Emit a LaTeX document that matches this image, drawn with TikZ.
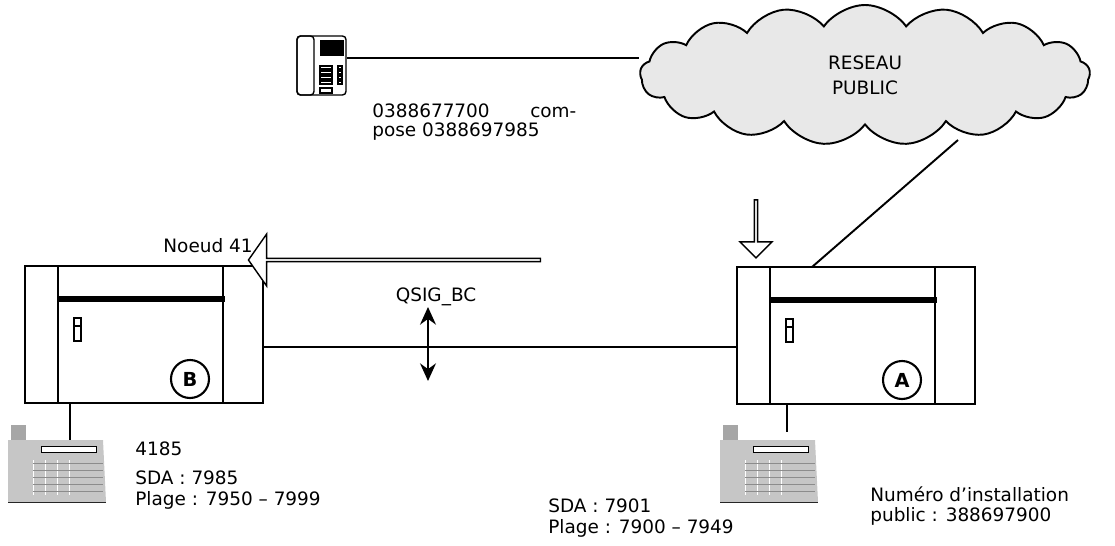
\documentclass[tikz,border=0pt]{standalone}
\usepackage{fontspec}
\setmainfont{DejaVu Sans}
\usetikzlibrary{arrows.meta, positioning, shapes.symbols, shapes.arrows}
\tikzset{
  lbl/.style={font=\fontsize{10.5}{12}\selectfont, inner sep=0pt, anchor=west},
  wire/.style={line width=1.1pt},
  hollow/.style={single arrow, draw, line width=0.8pt, fill=white, inner sep=0pt},
}
% one switch cabinet
\newcommand{\cabinet}[4]{% #1 x, #2 y, #3 letter, #4 name
  \draw[line width=1.4pt] (#1,#2) rectangle ++(238,137);
  \draw[line width=1.4pt] (#1+33,#2) -- ++(0,137) (#1+198,#2) -- ++(0,137);
  \draw[line width=3pt] (#1+33,#2+33) -- ++(167,0);
  \draw[line width=1.4pt] (#1+49,#2+52) rectangle ++(7,23) (#1+49,#2+60) -- ++(7,0);
  \node[circle, draw, line width=1.2pt, minimum size=38*0.02cm, inner sep=0pt,
        font=\fontsize{11}{12}\selectfont\bfseries] (#4) at (#1+165,#2+113) {#3};
}
% desk phone
\newcommand{\deskphone}[2]{% #1 x, #2 y (top left)
  \fill[gray!70] (#1+3,#2) rectangle ++(15,78);
  \fill[gray!45] (#1,#2+15) -- ++(95,0) -- ++(3,62) -- ++(-98,0) -- cycle;
  \draw[black, fill=white] (#1+33,#2+21) rectangle ++(55,6);
  \foreach \k in {0,...,3}
    \draw[white] (#1+25+\k*12,#2+35) -- ++(0,35);
  \foreach \j in {0,...,4}
    \draw[gray!90] (#1+25,#2+38+\j*7) -- ++(70,0);
  \draw[gray!30!black] (#1,#2+77) -- ++(98,0);
}
\begin{document}
\begin{tikzpicture}[x=0.02cm, y=-0.02cm]
  \useasboundingbox (0,0) rectangle (1115,545);

  % cloud
  \node[cloud, cloud puffs=17, cloud puff arc=110, aspect=3.2, draw, line width=1.1pt,
        fill=gray!18, minimum width=450*0.02cm, minimum height=140*0.02cm,
        align=center, font=\fontsize{10.5}{14}\selectfont] (reseau) at (865,75) {RESEAU\\PUBLIC};

  % calling phone
  \fill[white, draw=black, rounded corners=2pt, line width=0.8pt] (297,36) rectangle (346,95);
  \draw[line width=0.8pt, rounded corners=2pt] (297,36) rectangle (314,95);
  \fill (320,40) rectangle (344,56);
  \foreach \r in {0,...,3}
    \draw[line width=0.6pt] (320,66+\r*5) rectangle (332,69+\r*5) (338,66+\r*5) rectangle (342,69+\r*5);
  \draw[line width=0.6pt] (320,88) rectangle (332,93);
  \coordinate (caller) at (347,58);
  \draw[wire] (caller) -- (reseau.west |- caller);
  \node[lbl] (callno) at (372,111) {0388677700\hspace{2.2em}com-};
  \node[lbl] at (372,132) {pose 0388697985};

  % cabinets
  \cabinet{25}{266}{B}{nodeB}
  \cabinet{737}{267}{A}{nodeA}
  \coordinate (bright) at (262,347);
  \coordinate (aleft) at (737,347);
  \draw[wire] (bright) -- (aleft);
  \node[lbl, anchor=south] (noeud) at (208,253) {Noeud 41};

  % public line and incoming call
  \coordinate (atop) at (812,267);
  \coordinate (cloudfoot) at (958,140);
  \draw[wire] (cloudfoot) -- (atop);
  \node[hollow, rotate=-90, minimum width=32*0.02cm, minimum height=58*0.02cm,
        single arrow head extend=6*0.02cm] (incall) at (756,228) {};

  % QSIG
  \node[hollow, shape border rotate=180, minimum width=52*0.02cm, minimum height=292*0.02cm,
        single arrow head extend=11*0.02cm, single arrow tip angle=110] (qsig) at (395,260) {};
  \node[lbl, anchor=center] (qsiglbl) at (436,297) {QSIG\_BC};
  \coordinate (up) at (428,307);
  \coordinate (down) at (428,381);
  \draw[line width=1.5pt, {Stealth[length=10pt,width=9pt]}-{Stealth[length=10pt,width=9pt]}] (up) -- (down);

  % terminals
  \draw[wire] (70,403) -- (70,440);
  \deskphone{8}{425}
  \draw[wire] (787,404) -- (787,432);
  \deskphone{720}{425}

  \node[lbl] (postB) at (135,449) {4185};
  \node[lbl] at (135,478) {SDA : 7985};
  \node[lbl] at (135,500) {Plage : 7950 -- 7999};
  \node[lbl] (sdaA) at (548,506) {SDA : 7901};
  \node[lbl] at (548,528) {Plage : 7900 -- 7949};
  \node[lbl] (instA) at (870,494) {Numéro d’installation};
  \node[lbl] at (870,516) {public : 388697900};
\end{tikzpicture}
\end{document}
